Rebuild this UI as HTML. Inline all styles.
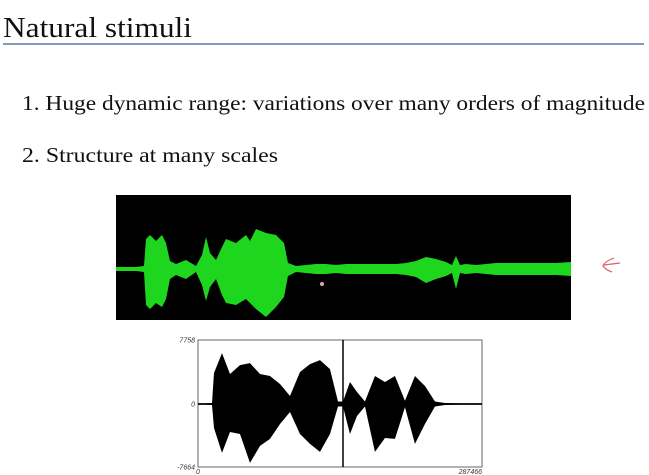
<!DOCTYPE html>
<html><head><meta charset="utf-8"><style>
html,body{margin:0;padding:0;background:#fff;width:649px;height:475px;overflow:hidden}
svg{display:block}
</style></head><body>
<svg id="slide" width="649" height="475" viewBox="0 0 649 475">
<text x="3" y="37" font-family="Liberation Serif, serif" font-size="28" fill="#111" textLength="189" lengthAdjust="spacingAndGlyphs">Natural stimuli</text>
<line x1="3" y1="44" x2="644" y2="44" stroke="#7d9cc0" stroke-width="2"/>
<text x="22" y="110" font-family="Liberation Serif, serif" font-size="21" fill="#111" textLength="623" lengthAdjust="spacingAndGlyphs">1. Huge dynamic range: variations over many orders of magnitude</text>
<text x="22" y="162" font-family="Liberation Serif, serif" font-size="21" fill="#111" textLength="256" lengthAdjust="spacingAndGlyphs">2. Structure at many scales</text>

<rect x="116" y="195" width="455" height="125" fill="#000"/>
<g id="green"></g>
<circle cx="322" cy="284" r="2" fill="#e8a0b0"/>
<path d="M614 258 Q604 262 603 266 Q606 270 612 272 M604 265 L620 263" stroke="#e05a6a" stroke-width="1.2" fill="none"/>

<rect x="198" y="340" width="284" height="127" fill="#fff" stroke="#666" stroke-width="1"/>
<g id="black"></g>
<line x1="343" y1="340" x2="343" y2="467" stroke="#000" stroke-width="1.5"/>
<g id="axes" font-family="Liberation Sans, sans-serif" font-size="7" font-style="italic" fill="#333"></g>
</svg>
<script>
// Green waveform: envelope in pixel-like amplitude units (max 62 = half panel)
const greenX = [116,126,136,144,146,150,156,162,166,170,176,186,196,202,206,210,216,222,226,236,246,250,256,266,276,284,288,296,306,316,326,336,346,356,366,376,386,396,406,416,426,436,446,452,456,460,466,476,486,496,506,516,526,536,546,556,571];
const greenTop = [2,2,2,3,30,34,28,34,26,8,5,9,3,14,32,16,9,22,30,26,34,28,40,36,34,26,6,3,4,5,5,4,5,5,5,5,5,5,6,8,12,10,7,4,13,4,5,4,5,6,6,6,6,6,6,6,7];
const greenBottom = [2,2,2,3,36,40,34,38,30,10,6,10,3,16,32,18,10,26,34,36,30,34,40,48,38,28,7,3,4,5,5,4,5,5,5,5,5,5,6,8,14,10,7,4,20,4,5,4,5,6,6,6,6,6,6,6,7];
// Black waveform: samples and amplitudes
const blackT = [0,7084,14168,16192,24288,32384,42504,52624,62744,72864,82984,93104,103224,113344,123464,133584,141680,146740,153824,160908,169004,179124,189244,199364,209484,219604,229724,239844,249964,265144,287466];
const blackTop = [100,100,120,3751,6171,3630,4719,4961,3630,3388,2420,968,3872,4840,5324,4235,300,300,2662,1452,300,3388,2662,3388,400,3388,2178,300,120,100,100];
const blackBottom = [-100,-100,-120,-2904,-5929,-3388,-3630,-7139,-5082,-4235,-2420,-968,-3630,-4840,-5808,-3630,-300,-300,-3630,-1452,-300,-5808,-4114,-4235,-400,-4840,-2420,-300,-120,-100,-100];
const yTicks = ["7758","0","-7664"];
const xTicks = ["0","287466"];

const NS="http://www.w3.org/2000/svg";
const gy = v => 269 - v;
const gy2 = v => 269 + v;
const bx = t => 198 + t/287466*284;
const by = v => 404 - v/7758*64;

function envelope(xs, tops, bots, fx, ftop, fbot){
  let pts = xs.map((x,i)=>fx(x)+","+ftop(tops[i]));
  for(let i=xs.length-1;i>=0;i--) pts.push(fx(xs[i])+","+fbot(bots[i]));
  return pts.join(" ");
}
const g = document.getElementById('green');
const gp = document.createElementNS(NS,'polygon');
gp.setAttribute('points', envelope(greenX, greenTop, greenBottom, x=>x, gy, gy2));
gp.setAttribute('fill','#1fd61f');


g.appendChild(gp);

const b = document.getElementById('black');
const bp = document.createElementNS(NS,'polygon');
bp.setAttribute('points', envelope(blackT, blackTop, blackBottom, bx, by, by));
bp.setAttribute('fill','#000');


b.appendChild(bp);

const ax = document.getElementById('axes');
const yv = [7758,0,-7664];
yTicks.forEach((t,i)=>{
  const tx = document.createElementNS(NS,'text');
  tx.setAttribute('x', 195); tx.setAttribute('y', by(yv[i])+2.5);
  tx.setAttribute('text-anchor','end');
  tx.textContent = t;
  
  
  ax.appendChild(tx);
});
const xv = [0,287466];
xTicks.forEach((t,i)=>{
  const tx = document.createElementNS(NS,'text');
  tx.setAttribute('x', bx(xv[i])); tx.setAttribute('y', 474);
  tx.setAttribute('text-anchor', i===0?'middle':'end');
  tx.textContent = t;
  
  
  ax.appendChild(tx);
});
</script>
</body></html>
